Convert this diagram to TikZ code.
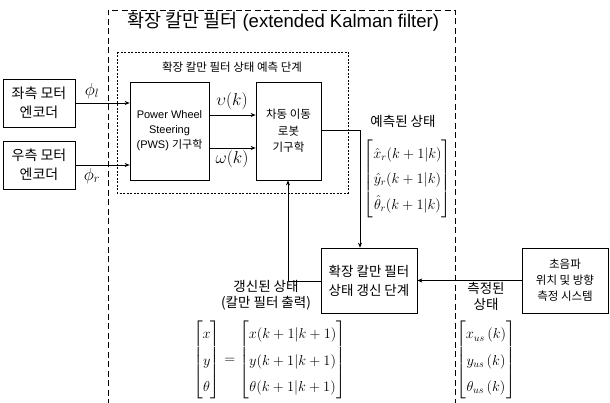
\documentclass[tikz,border=0pt]{standalone}
\usepackage{amsmath}
\usepackage{fontspec}
\setmainfont{Liberation Sans}
\newfontfamily\kr{Noto Sans CJK KR}
\usetikzlibrary{arrows.meta}
\tikzset{
  blk/.style={draw, line width=0.7pt, align=center, inner sep=0pt, font=\fontsize{11}{15}\selectfont},
  conn/.style={line width=0.7pt},
  arr/.style={conn, -{Stealth[length=5pt,width=4pt]}},
  lbl/.style={inner sep=0pt, align=center, font=\fontsize{13.5}{16.5}\selectfont\kr},
  mth/.style={inner sep=0pt, font=\fontsize{14}{17}\selectfont},
  big/.style={inner sep=0pt, font=\fontsize{18}{20}\selectfont},
}
\begin{document}
\begin{tikzpicture}[x=1pt,y=-1pt]
\useasboundingbox (0,0) rectangle (610,403);
% outer dashed box
\draw[line width=0.6pt, dash pattern=on 6pt off 3.5pt] (108,405) -- (108,10) -- (455,10) -- (455,405);
\node[inner sep=0pt, font=\fontsize{18.5}{20}\selectfont] (title) at (283,22) {{\kr 확장 칼만 필터} (extended Kalman filter)};
% inner dotted box
\draw[line width=0.6pt, dash pattern=on 2pt off 1.5pt] (117,52) rectangle (348,193);
\node[lbl, font=\fontsize{11.5}{13}\selectfont\kr] (ptitle) at (232,67) {확장 칼만 필터 상태 예측 단계};
% blocks
\node[blk, minimum width=72pt, minimum height=48pt, font=\fontsize{14}{19}\selectfont\kr] (encL) at (39,103) {좌측 모터\\엔코더};
\node[blk, minimum width=72pt, minimum height=48pt, font=\fontsize{14}{19}\selectfont\kr] (encR) at (39,165) {우측 모터\\엔코더};
\node[blk, minimum width=79pt, minimum height=98pt] (pws) at (169.5,131) {Power Wheel\\Steering\\(PWS) {\kr 기구학}};
\node[blk, minimum width=65pt, minimum height=98pt, font=\fontsize{11.5}{16.5}\selectfont\kr] (kin) at (288.5,131) {차동 이동\\로봇\\기구학};
\node[blk, minimum width=96pt, minimum height=65pt, font=\fontsize{13.5}{19}\selectfont\kr] (upd) at (369,280.5) {확장 칼만 필터\\상태 갱신 단계};
\node[blk, minimum width=86pt, minimum height=65pt, font=\fontsize{11.5}{16}\selectfont\kr] (us) at (565,280.5) {초음파\\위치 및 방향\\측정 시스템};
% coordinates
\coordinate (kout) at (321,130);
\coordinate (c1) at (360,130);
\coordinate (c2) at (288,281);
% connectors
\draw[arr] (encL.east) -- (encL.east -| pws.west);
\draw[arr] (encR.east) -- (encR.east -| pws.west);
\draw[arr] (pws.east |- 0,115) -- (kin.west |- 0,115);
\draw[arr] (pws.east |- 0,148) -- (kin.west |- 0,148);
\draw[arr] (kout) -- (c1) -- (c1 |- upd.north);
\draw[arr] (upd.west |- c2) -- (c2) -- (c2 |- kin.south);
\draw[arr] (us.west) -- (upd.east);
% labels
\node[big] (phil) at (92,91) {$\phi_l$};
\node[big] (phir) at (92,176) {$\phi_r$};
\node[big] (vk) at (232,101) {$\upsilon(k)$};
\node[big] (wk) at (232,159) {$\omega(k)$};
\node[lbl] (pred) at (403,121) {예측된 상태};
\node[mth] (predm) at (407.5,178.5) {$\renewcommand{\arraystretch}{1.5}\begin{bmatrix}\hat{x}_r(k+1|k)\\ \hat{y}_r(k+1|k)\\ \hat{\theta}_r(k+1|k)\end{bmatrix}$};
\node[lbl] (updl) at (266,295) {갱신된 상태\\(칼만 필터 출력)};
\node[mth] (updm) at (269.5,360) {$\renewcommand{\arraystretch}{1.55}\begin{bmatrix}x\\ y\\ \theta\end{bmatrix}=\begin{bmatrix}x(k+1|k+1)\\ y(k+1|k+1)\\ \theta(k+1|k+1)\end{bmatrix}$};
\node[lbl] (meas) at (486,296.5) {측정된\\상태};
\node[mth] (measm) at (486,360) {$\renewcommand{\arraystretch}{1.55}\begin{bmatrix}x_{us}\,(k)\\ y_{us}\,(k)\\ \theta_{us}\,(k)\end{bmatrix}$};
\end{tikzpicture}
\end{document}
